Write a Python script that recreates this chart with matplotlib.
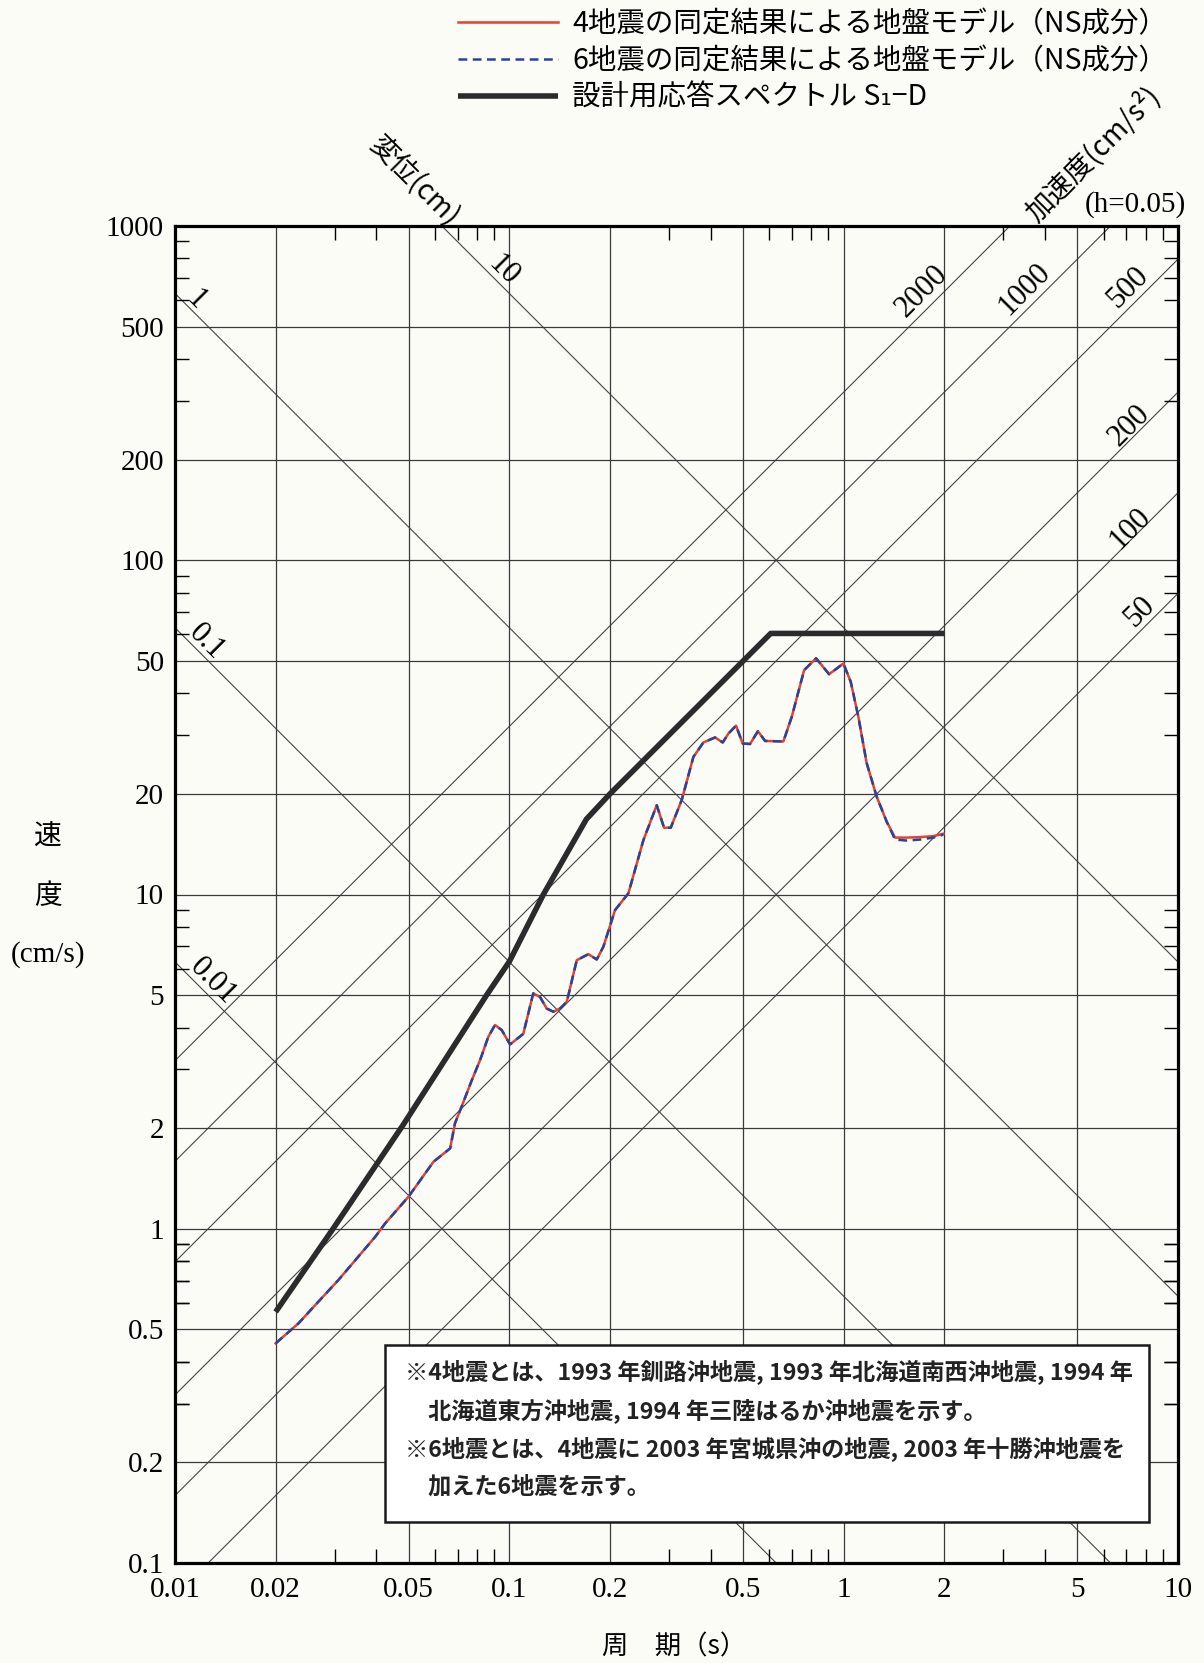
import numpy as np
import matplotlib
matplotlib.use('Agg')
import matplotlib.pyplot as plt
from matplotlib.patches import Rectangle
from matplotlib.font_manager import FontProperties

# 周期 (s) と速度応答 (cm/s)
period = [0.02, 0.0234, 0.0268, 0.0308, 0.0353, 0.0397, 0.0425, 0.0499, 0.0593, 0.0665,
          0.0688, 0.0720, 0.0772, 0.0818, 0.0865, 0.0906, 0.0949, 0.1005, 0.1101, 0.1179,
          0.1235, 0.1293, 0.1354, 0.1418, 0.1485, 0.1591, 0.1724, 0.1826, 0.1911, 0.2071,
          0.2270, 0.2518, 0.2760, 0.2902, 0.3039, 0.3278, 0.3552, 0.3806, 0.4124, 0.4347,
          0.4521, 0.4765, 0.4989, 0.5248, 0.5540, 0.5821, 0.6602, 0.6994, 0.7616, 0.8270,
          0.9046, 0.9981, 1.0498, 1.1066, 1.172, 1.2558, 1.3455, 1.4247, 1.544, 1.692,
          1.855, 1.987]
vel_4eq = [0.454, 0.521, 0.604, 0.702, 0.824, 0.946, 1.037, 1.246, 1.586, 1.739,
           2.07, 2.32, 2.78, 3.20, 3.75, 4.07, 3.93, 3.56, 3.83, 5.06,
           4.94, 4.56, 4.46, 4.56, 4.77, 6.36, 6.63, 6.39, 6.98, 8.98,
           10.08, 14.55, 18.5, 15.84, 15.84, 19.16, 25.8, 28.5, 29.5, 28.5,
           30.3, 32.0, 28.3, 28.2, 30.8, 28.8, 28.7, 34.0, 46.9, 50.9,
           45.6, 49.1, 43.3, 34.0, 24.7, 19.6, 16.5, 14.8, 14.8, 14.85,
           14.95, 15.2]
vel_6eq = [0.454, 0.521, 0.604, 0.702, 0.824, 0.946, 1.037, 1.246, 1.586, 1.739,
           2.07, 2.32, 2.78, 3.20, 3.75, 4.07, 3.93, 3.56, 3.83, 5.06,
           4.94, 4.56, 4.46, 4.56, 4.77, 6.36, 6.63, 6.39, 6.98, 8.98,
           10.08, 14.55, 18.5, 15.84, 15.84, 19.16, 25.8, 28.5, 29.5, 28.5,
           30.3, 32.0, 28.3, 28.2, 30.8, 28.8, 28.7, 34.0, 46.9, 50.9,
           45.6, 49.1, 43.3, 34.0, 24.7, 19.6, 16.5, 14.6, 14.5, 14.6,
           14.8, 15.1]

# 設計用応答スペクトル S1-D
design_T = [0.02, 0.0297, 0.0482, 0.0855, 0.10, 0.1264, 0.17, 0.20, 0.605, 2.0]
design_V = [0.564, 1.0, 2.05, 5.0, 6.3, 10.0, 16.8, 20.0, 60.4, 60.4]

disp_values = [0.01, 0.1, 1, 10]                 # 変位 (cm)
acc_values = [50, 100, 200, 500, 1000, 2000]     # 加速度 (cm/s2)

x_ticks = [0.01, 0.02, 0.05, 0.1, 0.2, 0.5, 1, 2, 5, 10]
x_labels = ['0.01', '0.02', '0.05', '0.1', '0.2', '0.5', '1', '2', '5', '10']
y_ticks = [0.1, 0.2, 0.5, 1, 2, 5, 10, 20, 50, 100, 200, 500, 1000]
y_labels = ['0.1', '0.2', '0.5', '1', '2', '5', '10', '20', '50', '100', '200', '500', '1000']

legend_labels = ['4地震の同定結果による地盤モデル（NS成分）',
                 '6地震の同定結果による地盤モデル（NS成分）',
                 '設計用応答スペクトル S₁−D']

note_lines = ['※4地震とは、1993 年釧路沖地震, 1993 年北海道南西沖地震, 1994 年',
              '　北海道東方沖地震, 1994 年三陸はるか沖地震を示す。',
              '※6地震とは、4地震に 2003 年宮城県沖の地震, 2003 年十勝沖地震を',
              '　加えた6地震を示す。']

CJK = ['Noto Sans CJK JP', 'DejaVu Sans']
SERIF = ['Liberation Serif', 'DejaVu Serif']
plt.rcParams['font.family'] = SERIF
bg = '#fcfcf7'
W, H = 1204, 1663

fig = plt.figure(figsize=(W / 100, H / 100), dpi=100, facecolor=bg)
ax = fig.add_axes([175 / W, 1 - 1563 / H, 1003 / W, 1337 / H], facecolor=bg)
ax.set_xscale('log')
ax.set_yscale('log')
ax.set_xlim(0.01, 10)
ax.set_ylim(0.1, 1000)

# 三軸の斜線
Tend = np.array([0.01, 10.0])
for d in disp_values:
    ax.plot(Tend, 2 * np.pi * d / Tend, color='#444444', lw=0.8, zorder=1)
for a in acc_values:
    ax.plot(Tend, a * Tend / (2 * np.pi), color='#444444', lw=0.8, zorder=1)

disp_text = [(0.0116, 600, '1'), (0.096, 735, '10'), (0.01244, 57, '0.1'), (0.01302, 5.48, '0.01')]
for t, v, s in disp_text:
    ax.text(t, v, s, rotation=-45, ha='center', va='center', fontsize=22, zorder=3)
acc_text = [(1.71, 640, '2000'), (3.48, 645, '1000'), (7.1, 655, '500'),
            (7.15, 252, '200'), (7.2, 124, '100'), (7.7, 70, '50')]
for t, v, s in acc_text:
    ax.text(t, v, s, rotation=45, ha='center', va='center', fontsize=22, zorder=3)

ax.set_xticks(x_ticks, x_labels)
ax.set_yticks(y_ticks, y_labels)
minor = [m * 10.0 ** e for e in range(-2, 3) for m in (3, 4, 6, 7, 8, 9)]
ax.set_xticks([m for m in minor if m < 10], minor=True)
ax.set_yticks([m for m in minor if 0.1 < m < 1000] + [m * 0.1 for m in (3, 4, 6, 7, 8, 9)], minor=True)
ax.tick_params(which='major', length=0, labelsize=21)
ax.tick_params(axis='x', which='major', pad=10)
ax.tick_params(axis='y', which='major', pad=8)
ax.tick_params(which='minor', direction='in', length=10, width=1.0, top=True, right=True,
               labelbottom=False, labelleft=False)
ax.grid(which='major', color='#3a3a3a', lw=0.9, zorder=0)
for sp in ax.spines.values():
    sp.set_linewidth(2.3)

l4, = ax.plot(period, vel_4eq, color='#e8402f', lw=1.8, zorder=4)
l6, = ax.plot(period, vel_6eq, color='#26449a', lw=1.8, dashes=(3.5, 2.2), zorder=4.5)
ld, = ax.plot(design_T, design_V, color='#2b2b2b', lw=4.0, solid_capstyle='butt', zorder=4)

ax.legend([l4, l6, ld], legend_labels, loc='upper left',
          bbox_to_anchor=(458 / W, 1 - 9 / H), bbox_transform=fig.transFigure,
          frameon=False, prop=FontProperties(family=CJK, size=20.5),
          handlelength=3.5, handletextpad=0.5, labelspacing=0.24,
          borderpad=0, borderaxespad=0)

# 注記の枠
ax.add_patch(Rectangle((0.2094, 0.0307), 0.7617, 0.1324, transform=ax.transAxes,
                       facecolor='white', edgecolor='#1a1a1a', lw=1.8, zorder=5))
for i, s in enumerate(note_lines):
    ax.text(0.2293, 0.1429 - i * 0.0287, s, transform=ax.transAxes, ha='left', va='center',
            family=CJK, fontsize=16.7, fontweight='bold', color='#222222', zorder=6)

fig.text(414 / W, 1 - 182 / H, '変位(cm)', rotation=-45, ha='center', va='center',
         family=CJK, fontsize=20)
fig.text(1093 / W, 1 - 154 / H, '加速度(cm/s²)', rotation=45, ha='center', va='center',
         family=CJK, fontsize=20)
fig.text(1135 / W, 1 - 205 / H, '(h=0.05)', ha='center', va='center', fontsize=21)

fig.text(48 / W, 1 - 836 / H, '速', ha='center', va='center', family=CJK, fontsize=20)
fig.text(48 / W, 1 - 896 / H, '度', ha='center', va='center', family=CJK, fontsize=20)
fig.text(48 / W, 1 - 955 / H, '(cm/s)', ha='center', va='center', fontsize=21)
fig.text(674 / W, 1 - 1647 / H, '周　期（s）', ha='center', va='center', family=CJK, fontsize=19)

fig.savefig('out.png', dpi=100, facecolor=bg)
